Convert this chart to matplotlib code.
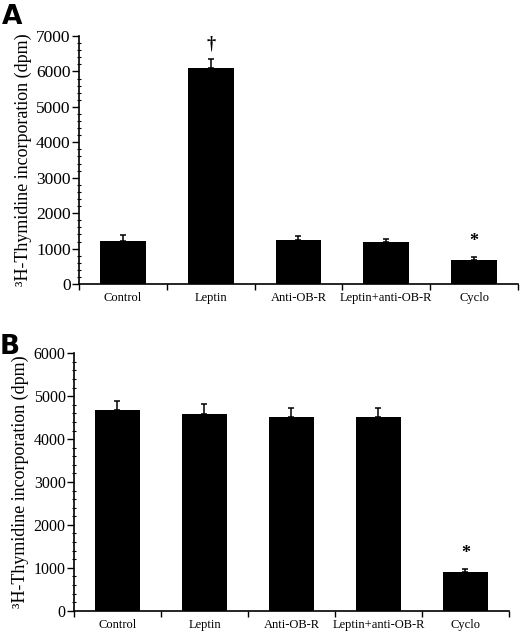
import matplotlib
matplotlib.use("Agg")
import matplotlib.pyplot as plt
import numpy as np
from matplotlib.ticker import MultipleLocator

plt.rcParams["font.family"] = ["Liberation Serif", "DejaVu Serif"]

groups = ["Control", "Leptin", "Anti-OB-R", "Leptin+anti-OB-R", "Cyclo"]

# panel A
mean_a = [1220, 6090, 1240, 1180, 670]
err_a = [150, 250, 120, 100, 85]
marks_a = ["", "\u2020", "", "", "*"]

# panel B
mean_b = [4680, 4590, 4510, 4510, 910]
err_b = [210, 230, 210, 210, 65]
marks_b = ["", "", "", "", "*"]

ylabel = "\u00b3H-Thymidine incorporation (dpm)"

fig = plt.figure(figsize=(5.2, 6.32), dpi=100)
ax_a = fig.add_axes([0.152, 0.5506, 0.844, 0.3924])
ax_b = fig.add_axes([0.1423, 0.0337, 0.8365, 0.4073])


def draw_panel(ax, means, errs, marks, ymax, letter, tick_fs, letter_xy):
    x = np.arange(len(groups))
    ax.bar(x, means, width=0.52, color="black", zorder=2)
    ax.errorbar(x, means, yerr=[np.zeros(len(errs)), errs], fmt="none",
                ecolor="black", elinewidth=1.1, capsize=2.5, capthick=1.1,
                zorder=1)
    for xi, m, e, s in zip(x, means, errs, marks):
        if s:
            ax.annotate(s, (xi, m + e), xytext=(0, 11), textcoords="offset points",
                        ha="center", va="center", fontsize=13, fontweight="bold")
    ax.set_xlim(-0.5, len(groups) - 0.5)
    ax.set_ylim(0, ymax)
    ax.set_xticks(np.arange(len(groups) + 1) - 0.5)
    ax.set_xticklabels([])
    ax.set_xticks(x, minor=True)
    ax.set_xticklabels(groups, minor=True, fontsize=9)
    ax.tick_params(axis="x", which="minor", length=0, pad=6)
    ax.tick_params(axis="x", which="major", length=4, width=1, direction="out")
    ax.yaxis.set_major_locator(MultipleLocator(1000))
    ax.yaxis.set_minor_locator(MultipleLocator(200))
    ax.tick_params(axis="y", which="major", length=5, width=1, labelsize=tick_fs, pad=1)
    ax.tick_params(axis="y", which="minor", length=2.5, width=0.8, direction="inout")
    for side in ("top", "right"):
        ax.spines[side].set_visible(False)
    for side in ("left", "bottom"):
        ax.spines[side].set_linewidth(1.2)
    ax.set_ylabel(ylabel, fontsize=13, labelpad=3)
    ax.text(letter_xy[0], letter_xy[1], letter, transform=ax.transAxes, fontsize=19,
            fontweight="bold", family="DejaVu Sans", ha="left", va="top")


draw_panel(ax_a, mean_a, err_a, marks_a, 7000, "A", 12.5, (-0.176, 1.128))
draw_panel(ax_b, mean_b, err_b, marks_b, 6000, "B", 11.5, (-0.17, 1.075))

fig.savefig("out.png", dpi=100)
